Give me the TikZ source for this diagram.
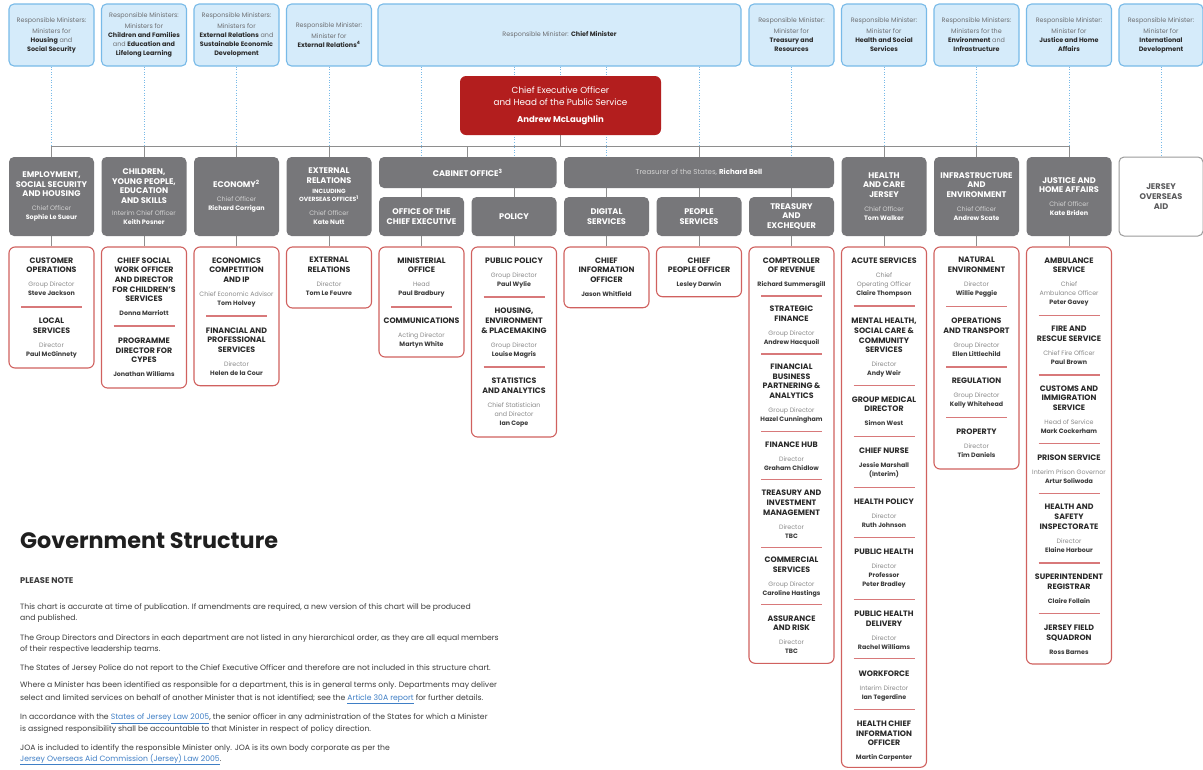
\documentclass[tikz,border=0pt]{standalone}
\usepackage{fontspec}
\setmainfont{Poppins}
\usetikzlibrary{backgrounds}
\definecolor{mfill}{HTML}{D5EBFA}
\definecolor{mline}{HTML}{78BAE8}
\definecolor{mtxt}{HTML}{6D6E71}
\definecolor{gbox}{HTML}{77777A}
\definecolor{gline}{HTML}{8E8E8E}
\definecolor{rline}{HTML}{D0615F}
\definecolor{rsep}{HTML}{D8797A}
\definecolor{ceo}{HTML}{B31E1E}
\definecolor{hdtxt}{HTML}{2A2A2A}
\definecolor{rltxt}{HTML}{8A8A8A}
\definecolor{nmtxt}{HTML}{3A3A3A}
\definecolor{lgrey}{HTML}{D2D2D2}
\definecolor{bodytxt}{HTML}{3C3C3C}
\definecolor{link}{HTML}{3F7FC6}
\definecolor{joa}{HTML}{5A5A5C}
\definecolor{joaline}{HTML}{9B9B9B}

\newcommand\rl[1]{{\fontsize{6.3}{9.7}\selectfont\mdseries\color{rltxt}#1}}
\newcommand\nm[1]{{\fontsize{6.3}{9.7}\selectfont\bfseries\color{nmtxt}#1}}
\newcommand\nx{\\[-.7pt]}
\newcommand\rn[2]{\rl{#1}\nx\nm{#2}}
\newcommand\gr[1]{{\fontsize{6.4}{9.7}\selectfont\mdseries\color{lgrey}#1}}
\newcommand\gn[1]{{\fontsize{6.4}{9.7}\selectfont\bfseries\color{white}#1}}
\newcommand\gsm[1]{{\fontsize{6}{9.7}\selectfont #1}}
\newcommand\mb[1]{{\bfseries\color{hdtxt}#1}}
\newcommand\lk[1]{\textcolor{link}{\underline{#1}}}
\newcommand\sect[5]{\node[sec] (#1) at (#2,#3-2.75) {#4\\[4.3pt]#5};}
\newcommand\sepr[2]{\draw[sepl] (#1-30.5,#2) -- (#1+30.5,#2);}
\newcommand\rbox[3]{\node[redbox, minimum height=#3-247] (#1) at (#2,{(247+#3)/2}) {};}

\tikzset{
  minbox/.style={draw=mline, fill=mfill, line width=1.1pt, rounded corners=5pt,
    minimum width=85pt, minimum height=62pt, align=center, inner sep=0pt,
    font=\fontsize{6.4}{9}\selectfont, text=mtxt},
  greybox/.style={fill=gbox, rounded corners=5pt, minimum width=85pt, align=center,
    inner sep=0pt, font=\fontsize{8.2}{9.7}\selectfont\bfseries, text=white},
  redbox/.style={draw=rline, fill=white, line width=1.1pt, rounded corners=6pt,
    minimum width=85pt, inner sep=0pt},
  sec/.style={anchor=north, align=center, inner sep=0pt,
    font=\fontsize{7.85}{9.7}\selectfont\bfseries, text=hdtxt},
  sepl/.style={draw=rsep, line width=1.3pt},
  dotl/.style={draw=mline, line width=1pt, dash pattern=on 1pt off 1.6pt},
  gcon/.style={draw=gline, line width=1pt},
  body/.style={anchor=base west, inner sep=0pt, font=\fontsize{7.7}{9}\selectfont, text=bodytxt}
}

\begin{document}
\begin{tikzpicture}[x=1pt,y=-1pt]
\useasboundingbox (0,0) rectangle (1203,769);
\begin{pgfonlayer}{background}
\fill[white] (0,0) rectangle (1203,769);
\end{pgfonlayer}
\coordinate (hl) at (0,146);

% ---------- minister boxes ----------
\node[minbox] (m0) at (51.5,35) {Responsible Ministers:\\[2pt]Ministers for\\\mb{Housing} and\\\mb{Social Security}};
\node[minbox] (m1) at (144,35) {Responsible Ministers:\\[2pt]Ministers for\\\mb{Children and Families}\\and \mb{Education and}\\\mb{Lifelong Learning}};
\node[minbox] (m2) at (236.5,35) {Responsible Ministers:\\[2pt]Ministers for\\\mb{External Relations} and\\\mb{Sustainable Economic}\\\mb{Development}};
\node[minbox] (m3) at (329,35) {Responsible Minister:\\[2pt]Minister for\\\mb{External Relations\textsuperscript{4}}};
\node[minbox, minimum width=363pt] (m4) at (559.5,35) {Responsible Minister: \mb{Chief Minister}};
\node[minbox] (m8) at (791.5,35) {Responsible Minister:\\[2pt]Minister for\\\mb{Treasury and}\\\mb{Resources}};
\node[minbox] (m9) at (884,35) {Responsible Minister:\\[2pt]Minister for\\\mb{Health and Social}\\\mb{Services}};
\node[minbox] (m10) at (976.5,35) {Responsible Ministers:\\[2pt]Ministers for the\\\mb{Environment} and\\\mb{Infrastructure}};
\node[minbox] (m11) at (1069,35) {Responsible Minister:\\[2pt]Minister for\\\mb{Justice and Home}\\\mb{Affairs}};
\node[minbox, minimum width=84pt] (m12) at (1161,35) {Responsible Minister:\\[2pt]Minister for\\\mb{International}\\\mb{Development}};

% ---------- CEO ----------
\node[fill=ceo, rounded corners=6pt, minimum width=201pt, minimum height=59pt, align=center,
  inner sep=0pt, text=white, font=\fontsize{8.8}{12.6}\selectfont] (ceo) at (560.5,105.5)
  {Chief Executive Officer\\and Head of the Public Service\\[3.8pt]{\fontsize{8.5}{12.6}\selectfont\bfseries Andrew McLaughlin}};

% ---------- grey department boxes ----------
\node[greybox, minimum height=79pt] (g0) at (51.5,196.5) {EMPLOYMENT,\\SOCIAL SECURITY\\AND HOUSING\\[4.3pt]\gr{Chief Officer}\nx\gn{Sophie Le Sueur}};
\node[greybox, minimum height=79pt] (g1) at (144,196.5) {CHILDREN,\\YOUNG PEOPLE,\\EDUCATION\\AND SKILLS\\[2.3pt]\gr{Interim Chief Officer}\nx\gn{Keith Posner}};
\node[greybox, minimum height=79pt] (g2) at (236.5,196.5) {ECONOMY\textsuperscript{2}\\[4.3pt]\gr{Chief Officer}\nx\gn{Richard Corrigan}};
\node[greybox, minimum height=79pt] (g3) at (329,196.5) {EXTERNAL\\RELATIONS\\\gsm{INCLUDING}\\[-1.3pt]\gsm{OVERSEAS OFFICES\textsuperscript{1}}\\[4.3pt]\gr{Chief Officer}\nx\gn{Kate Nutt}};
\node[greybox, minimum width=177.5pt, minimum height=31pt] (cab) at (467.75,172.5) {CABINET OFFICE\textsuperscript{3}};
\node[greybox, minimum height=39pt] (g4) at (421.5,216.5) {OFFICE OF THE\\CHIEF EXECUTIVE};
\node[greybox, minimum height=39pt] (g5) at (514,216.5) {POLICY};
\node[greybox, minimum width=270pt, minimum height=31pt, font=\fontsize{7.1}{9}\selectfont, text=lgrey] (tre) at (699,172.5) {Treasurer of the States, {\bfseries\color{white}Richard Bell}};
\node[greybox, minimum height=39pt] (g6) at (606.5,216.5) {DIGITAL\\SERVICES};
\node[greybox, minimum height=39pt] (g7) at (699,216.5) {PEOPLE\\SERVICES};
\node[greybox, minimum height=39pt] (g8) at (791.5,216.5) {TREASURY\\AND\\EXCHEQUER};
\node[greybox, minimum height=79pt] (g9) at (884,196.5) {HEALTH\\AND CARE\\JERSEY\\[4.3pt]\gr{Chief Officer}\nx\gn{Tom Walker}};
\node[greybox, minimum height=79pt] (g10) at (976.5,196.5) {INFRASTRUCTURE\\AND\\ENVIRONMENT\\[4.3pt]\gr{Chief Officer}\nx\gn{Andrew Scate}};
\node[greybox, minimum height=79pt] (g11) at (1069,196.5) {JUSTICE AND\\HOME AFFAIRS\\[4.3pt]\gr{Chief Officer}\nx\gn{Kate Briden}};
\node[greybox, fill=white, draw=joaline, line width=1pt, minimum height=79pt, minimum width=84pt, text=joa] (g12) at (1161,196.5) {JERSEY\\OVERSEAS\\AID};

% ---------- red boxes ----------
\rbox{r0}{51.5}{368}
\rbox{r1}{144}{388}
\rbox{r2}{236.5}{385.7}
\rbox{r3}{329}{308}
\rbox{r4}{421.5}{357}
\rbox{r5}{514}{437}
\rbox{r6}{606.5}{307.7}
\rbox{r7}{699}{296.7}
\rbox{r8}{791.5}{663.3}
\rbox{r9}{884}{767.3}
\rbox{r10}{976.5}{469}
\rbox{r11}{1069}{664}

% ---------- connectors ----------
\begin{pgfonlayer}{background}
\foreach \m in {m0,m1,m2,m3,m9,m10,m11} {\draw[dotl] (\m.south) -- (\m |- hl);}
\draw[dotl] (g4 |- m4.south) -- (g4 |- cab.north);
\draw[dotl] (g5 |- m4.south) -- (g5 |- cab.north);
\draw[dotl] (g6 |- m4.south) -- (g6 |- tre.north);
\draw[dotl] (g7 |- m4.south) -- (g7 |- tre.north);
\draw[dotl] (ceo.north |- m4.south) -- (ceo.north);
\draw[dotl] (m8.south) -- (g8 |- tre.north);
\draw[dotl] (m12.south) -- (g12.north);
\draw[gcon] (ceo.south) -- (ceo.south |- hl);
\draw[gcon] (g0 |- hl) -- (g11 |- hl);
\foreach \g in {g0,g1,g2,g3,g9,g10,g11} {\draw[gcon] (\g |- hl) -- (\g.north);}
\draw[gcon] (cab |- hl) -- (cab.north);
\draw[gcon] (tre |- hl) -- (tre.north);
\draw[gcon] (g4 |- cab.south) -- (g4.north);
\draw[gcon] (g5 |- cab.south) -- (g5.north);
\draw[gcon] (g6 |- tre.south) -- (g6.north);
\draw[gcon] (g7 |- tre.south) -- (g7.north);
\draw[gcon] (g8 |- tre.south) -- (g8.north);
\foreach \i in {0,...,11} {\draw[gcon] (g\i.south) -- (r\i.north);}
\end{pgfonlayer}

% ---------- sections ----------
\sect{s0a}{51.5}{260}{CUSTOMER\\OPERATIONS}{\rn{Group Director}{Steve Jackson}}
\sepr{51.5}{307}
\sect{s0b}{51.5}{320.7}{LOCAL\\SERVICES}{\rn{Director}{Paul McGinnety}}

\sect{s1a}{144}{260}{CHIEF SOCIAL\\WORK OFFICER\\AND DIRECTOR\\FOR CHILDREN'S\\SERVICES}{\nm{Donna Marriott}}
\sepr{144}{326}
\sect{s1b}{144}{340.3}{PROGRAMME\\DIRECTOR FOR\\CYPES}{\nm{Jonathan Williams}}

\sect{s2a}{236.5}{260}{ECONOMICS\\COMPETITION\\AND IP}{\rn{Chief Economic Advisor}{Tom Holvey}}
\sepr{236.5}{316}
\sect{s2b}{236.5}{330}{FINANCIAL AND\\PROFESSIONAL\\SERVICES}{\rn{Director}{Helen de la Cour}}

\sect{s3a}{329}{260}{EXTERNAL\\RELATIONS}{\rn{Director}{Tom Le Feuvre}}

\sect{s4a}{421.5}{260}{MINISTERIAL\\OFFICE}{\rn{Head}{Paul Bradbury}}
\sepr{421.5}{307}
\sect{s4b}{421.5}{320.7}{COMMUNICATIONS}{\rn{Acting Director}{Martyn White}}

\sect{s5a}{514}{260}{PUBLIC POLICY}{\rn{Group Director}{Paul Wylie}}
\sepr{514}{297}
\sect{s5b}{514}{310.7}{HOUSING,\\ENVIRONMENT\\\& PLACEMAKING}{\rn{Group Director}{Louise Magris}}
\sepr{514}{367}
\sect{s5c}{514}{380.3}{STATISTICS\\AND ANALYTICS}{\rl{Chief Statistician}\nx\rl{and Director}\nx\nm{Ian Cope}}

\sect{s6a}{606.5}{260}{CHIEF\\INFORMATION\\OFFICER}{\nm{Jason Whitfield}}
\sect{s7a}{699}{260}{CHIEF\\PEOPLE OFFICER}{\nm{Lesley Darwin}}

\sect{s8a}{791.5}{260}{COMPTROLLER\\OF REVENUE}{\nm{Richard Summersgill}}
\sepr{791.5}{296}
\sect{s8b}{791.5}{308.7}{STRATEGIC\\FINANCE}{\rn{Group Director}{Andrew Hacquoil}}
\sepr{791.5}{354}
\sect{s8c}{791.5}{366.3}{FINANCIAL\\BUSINESS\\PARTNERING \&\\ANALYTICS}{\rn{Group Director}{Hazel Cunningham}}
\sepr{791.5}{431.7}
\sect{s8d}{791.5}{444}{FINANCE HUB}{\rn{Director}{Graham Chidlow}}
\sepr{791.5}{479.3}
\sect{s8e}{791.5}{492.7}{TREASURY AND\\INVESTMENT\\MANAGEMENT}{\rn{Director}{TBC}}
\sepr{791.5}{547.3}
\sect{s8f}{791.5}{559.3}{COMMERCIAL\\SERVICES}{\rn{Group Director}{Caroline Hastings}}
\sepr{791.5}{604.3}
\sect{s8g}{791.5}{618}{ASSURANCE\\AND RISK}{\rn{Director}{TBC}}

\sect{s9a}{884}{260}{ACUTE SERVICES}{\rl{Chief}\nx\rl{Operating Officer}\nx\nm{Claire Thompson}}
\sepr{884}{306}
\sect{s9b}{884}{320.7}{MENTAL HEALTH,\\SOCIAL CARE \&\\COMMUNITY\\SERVICES}{\rn{Director}{Andy Weir}}
\sepr{884}{385.3}
\sect{s9c}{884}{399}{GROUP MEDICAL\\DIRECTOR}{\nm{Simon West}}
\sepr{884}{436.7}
\sect{s9d}{884}{450.7}{CHIEF NURSE}{\nm{Jessie Marshall}\nx\nm{(Interim)}}
\sepr{884}{487.3}
\sect{s9e}{884}{501}{HEALTH POLICY}{\rn{Director}{Ruth Johnson}}
\sepr{884}{537.3}
\sect{s9f}{884}{551.7}{PUBLIC HEALTH}{\rl{Director}\nx\nm{Professor}\nx\nm{Peter Bradley}}
\sepr{884}{599.3}
\sect{s9g}{884}{613.3}{PUBLIC HEALTH\\DELIVERY}{\rn{Director}{Rachel Williams}}
\sepr{884}{658.3}
\sect{s9h}{884}{673.3}{WORKFORCE}{\rn{Interim Director}{Ian Tegerdine}}
\sepr{884}{709.3}
\sect{s9i}{884}{723.3}{HEALTH CHIEF\\INFORMATION\\OFFICER}{\nm{Martin Carpenter}}

\sect{s10a}{976.5}{260}{NATURAL\\ENVIRONMENT}{\rn{Director}{Willie Peggie}}
\sepr{976.5}{306.7}
\sect{s10b}{976.5}{320.7}{OPERATIONS\\AND TRANSPORT}{\rn{Group Director}{Ellen Littlechild}}
\sepr{976.5}{367}
\sect{s10c}{976.5}{380.3}{REGULATION}{\rn{Group Director}{Kelly Whitehead}}
\sepr{976.5}{417.7}
\sect{s10d}{976.5}{431}{PROPERTY}{\rn{Director}{Tim Daniels}}

\sect{s11a}{1069}{260}{AMBULANCE\\SERVICE}{\rl{Chief}\nx\rl{Ambulance Officer}\nx\nm{Peter Gavey}}
\sepr{1069}{315.3}
\sect{s11b}{1069}{329}{FIRE AND\\RESCUE SERVICE}{\rn{Chief Fire Officer}{Paul Brown}}
\sepr{1069}{375}
\sect{s11c}{1069}{388}{CUSTOMS AND\\IMMIGRATION\\SERVICE}{\rn{Head of Service}{Mark Cockerham}}
\sepr{1069}{443.7}
\sect{s11d}{1069}{457}{PRISON SERVICE}{\rn{Interim Prison Governor}{Artur Soliwoda}}
\sepr{1069}{493.7}
\sect{s11e}{1069}{506.7}{HEALTH AND\\SAFETY\\INSPECTORATE}{\rn{Director}{Elaine Harbour}}
\sepr{1069}{563}
\sect{s11f}{1069}{576.7}{SUPERINTENDENT\\REGISTRAR}{\nm{Claire Follain}}
\sepr{1069}{613.3}
\sect{s11g}{1069}{627.3}{JERSEY FIELD\\SQUADRON}{\nm{Ross Barnes}}

% ---------- notes ----------
\node[anchor=base west, inner sep=0pt, font=\fontsize{22.3}{26}\selectfont\bfseries, text=black!88] (title) at (20,548) {Government Structure};
\node[body, font=\fontsize{8.3}{9}\selectfont\bfseries] (pn) at (20,583.6) {PLEASE NOTE};
\node[body] (b1) at (20,609.5) {This chart is accurate at time of publication. If amendments are required, a new version of this chart will be produced};
\node[body] (b2) at (20,620.5) {and published.};
\node[body] (b3) at (20,640.5) {The Group Directors and Directors in each department are not listed in any hierarchical order, as they are all equal members};
\node[body] (b4) at (20,651.5) {of their respective leadership teams.};
\node[body] (b5) at (20,670.5) {The States of Jersey Police do not report to the Chief Executive Officer and therefore are not included in this structure chart.};
\node[body] (b6) at (20,687.8) {Where a Minister has been identified as responsible for a department, this is in general terms only. Departments may deliver};
\node[body] (b7) at (20,700.1) {select and limited services on behalf of another Minister that is not identified; see the \lk{Article 30A report} for further details.};
\node[body] (b8) at (20,719.5) {In accordance with the \lk{States of Jersey Law 2005}, the senior officer in any administration of the States for which a Minister};
\node[body] (b9) at (20,731.5) {is assigned responsibility shall be accountable to that Minister in respect of policy direction.};
\node[body] (b10) at (20,750.1) {JOA is included to identify the responsible Minister only. JOA is its own body corporate as per the};
\node[body] (b11) at (20,761.1) {\lk{Jersey Overseas Aid Commission (Jersey) Law 2005}.};
\end{tikzpicture}
\end{document}
